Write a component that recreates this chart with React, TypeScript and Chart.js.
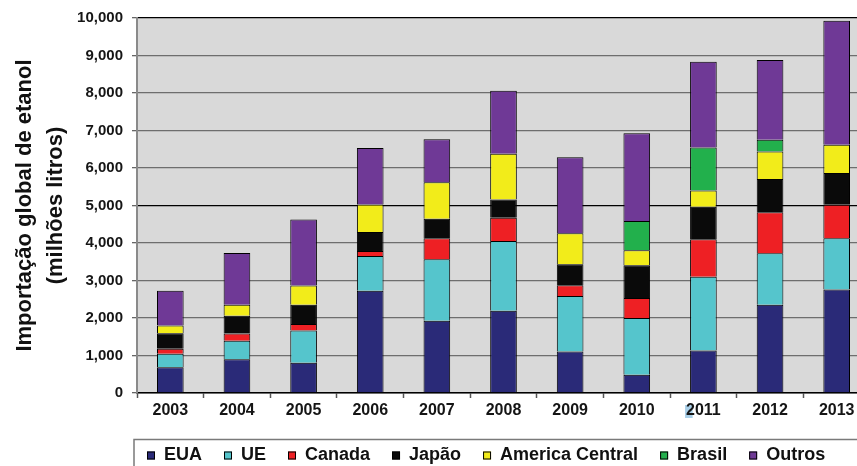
import React, { useEffect, useRef } from "react";
import { Chart, registerables } from "chart.js";

Chart.register(...registerables);

// Ethanol imports by origin (millions of litres)
const years = ["2003", "2004", "2005", "2006", "2007", "2008", "2009", "2010", "2011", "2012", "2013"];
const eua = [690, 900, 805, 2726, 1929, 2195, 1106, 487, 1133, 2354, 2761];
const ue = [354, 495, 859, 929, 1638, 1858, 1478, 1513, 1965, 1372, 1363];
const canada = [133, 195, 177, 133, 557, 620, 292, 531, 1000, 1097, 894];
const japao = [416, 469, 513, 504, 522, 487, 558, 876, 867, 885, 850];
const americaCentral = [204, 292, 513, 735, 974, 1221, 823, 399, 434, 735, 752];
const brasil: (number | null)[] = [null, null, null, null, null, null, null, 778, 1150, 310, null];
const outros = [929, 1381, 1762, 1504, 1150, 1681, 2027, 2346, 2283, 2124, 3310];

const seriesNames = ["EUA", "UE", "Canada", "Japão", "America Central", "Brasil", "Outros"];
const seriesColors = ["#2a2a78", "#55c5cc", "#ee2024", "#0a0a0a", "#f2ec1a", "#22b04c", "#6f3996"];
const seriesValues = [eua, ue, canada, japao, americaCentral, brasil, outros];

const yTitle = ["Importação global de etanol", "(milhões litros)"];

// Year label whose first digit carries a selection highlight
const highlightedYear = "2011";

const FONT = "'Liberation Sans', Arial, sans-serif";
const X_TICK_SIZE = 16;

const plotBackground = {
  id: "plotBackground",
  beforeDraw(chart: any) {
    const { ctx, chartArea } = chart;
    ctx.save();
    ctx.fillStyle = "#d9d9d9";
    ctx.fillRect(chartArea.left, chartArea.top, chartArea.right - chartArea.left, chartArea.bottom - chartArea.top);

    // light-blue selection box behind the first digit of one year label
    const xScale = chart.scales.x;
    const idx = years.indexOf(highlightedYear);
    if (idx >= 0) {
      ctx.font = `bold ${X_TICK_SIZE}px ${FONT}`;
      const full = ctx.measureText(highlightedYear).width;
      const first = ctx.measureText(highlightedYear[0]).width;
      const cx = xScale.getPixelForTick(idx);
      const left = cx - full / 2;
      ctx.fillStyle = "#a9cfe8";
      ctx.fillRect(left - 1, chartArea.bottom + 12, first * 0.85, 13);
    }
    ctx.restore();
  },
};

// Boxed legend row under the axis
const boxedLegend = {
  id: "boxedLegend",
  afterDraw(chart: any) {
    const { ctx, chartArea } = chart;
    const boxLeft = chartArea.left - 3;
    const boxTop = chartArea.bottom + 46.5;
    ctx.save();
    ctx.strokeStyle = "#7a7a7a";
    ctx.lineWidth = 1.5;
    ctx.strokeRect(boxLeft, boxTop, chart.width + 20, 60);

    ctx.font = `bold 18px ${FONT}`;
    ctx.textBaseline = "middle";
    ctx.textAlign = "left";
    let x = boxLeft + 13;
    const midY = boxTop + 16;
    chart.data.datasets.forEach((ds: any) => {
      ctx.fillStyle = ds.backgroundColor;
      ctx.fillRect(x, midY - 4, 8, 8);
      ctx.strokeStyle = "#000";
      ctx.lineWidth = 1;
      ctx.strokeRect(x + 0.5, midY - 3.5, 7, 7);
      ctx.fillStyle = "#111";
      const tx = x + 17;
      ctx.fillText(ds.label, tx, midY);
      x = tx + ctx.measureText(ds.label).width + 22;
    });
    ctx.restore();
  },
};

export default function App() {
  const canvasRef = useRef<HTMLCanvasElement>(null);

  useEffect(() => {
    const canvas = canvasRef.current;
    if (!canvas) return;
    const chart = new Chart(canvas, {
      type: "bar",
      data: {
        labels: years,
        datasets: seriesNames.map((name, i) => ({
          label: name,
          data: seriesValues[i],
          backgroundColor: seriesColors[i],
          borderColor: "#000",
          borderWidth: 1,
          categoryPercentage: 1,
          barPercentage: 0.4,
        })),
      },
      options: {
        responsive: false,
        animation: false,
        devicePixelRatio: 1,
        locale: "en-US",
        layout: { padding: { top: 16, right: 5, bottom: 43, left: 0 } },
        plugins: {
          legend: { display: false },
          tooltip: { enabled: false },
        },
        scales: {
          x: {
            stacked: true,
            afterFit(scale: any) {
              scale.height = 30;
            },
            border: { color: "#000", width: 1.5 },
            grid: {
              display: true,
              drawOnChartArea: false,
              offset: true,
              tickLength: 5,
              tickColor: "#555",
              tickWidth: 1.5,
            },
            ticks: {
              color: "#151515",
              padding: 3,
              font: { family: FONT, size: X_TICK_SIZE, weight: "bold" },
            },
          },
          y: {
            stacked: true,
            min: 0,
            max: 10000,
            afterFit(scale: any) {
              scale.width = 137;
            },
            border: { color: "#8a8a8a", width: 2 },
            grid: {
              color: (ctx: any) =>
                ctx.tick && (ctx.tick.value === 5000 || ctx.tick.value === 10000) ? "#000" : "#6e6e6e",
              lineWidth: 1.3,
              tickLength: 5,
              tickColor: "#666",
            },
            ticks: {
              stepSize: 1000,
              color: "#151515",
              padding: 9,
              font: { family: FONT, size: 15, weight: "bold" },
            },
            title: {
              display: true,
              text: yTitle,
              color: "#111",
              padding: { top: 9, bottom: 0 },
              font: { family: FONT, size: 22, weight: "bold", lineHeight: "31px" },
            },
          },
        },
      },
      plugins: [plotBackground, boxedLegend],
    });
    return () => chart.destroy();
  }, []);

  return (
    <div style={{ position: "fixed", left: 0, top: 0, width: 857, height: 466, overflow: "hidden", background: "#fff" }}>
      <canvas ref={canvasRef} width={875} height={466} style={{ display: "block", width: 875, height: 466 }} />
    </div>
  );
}
